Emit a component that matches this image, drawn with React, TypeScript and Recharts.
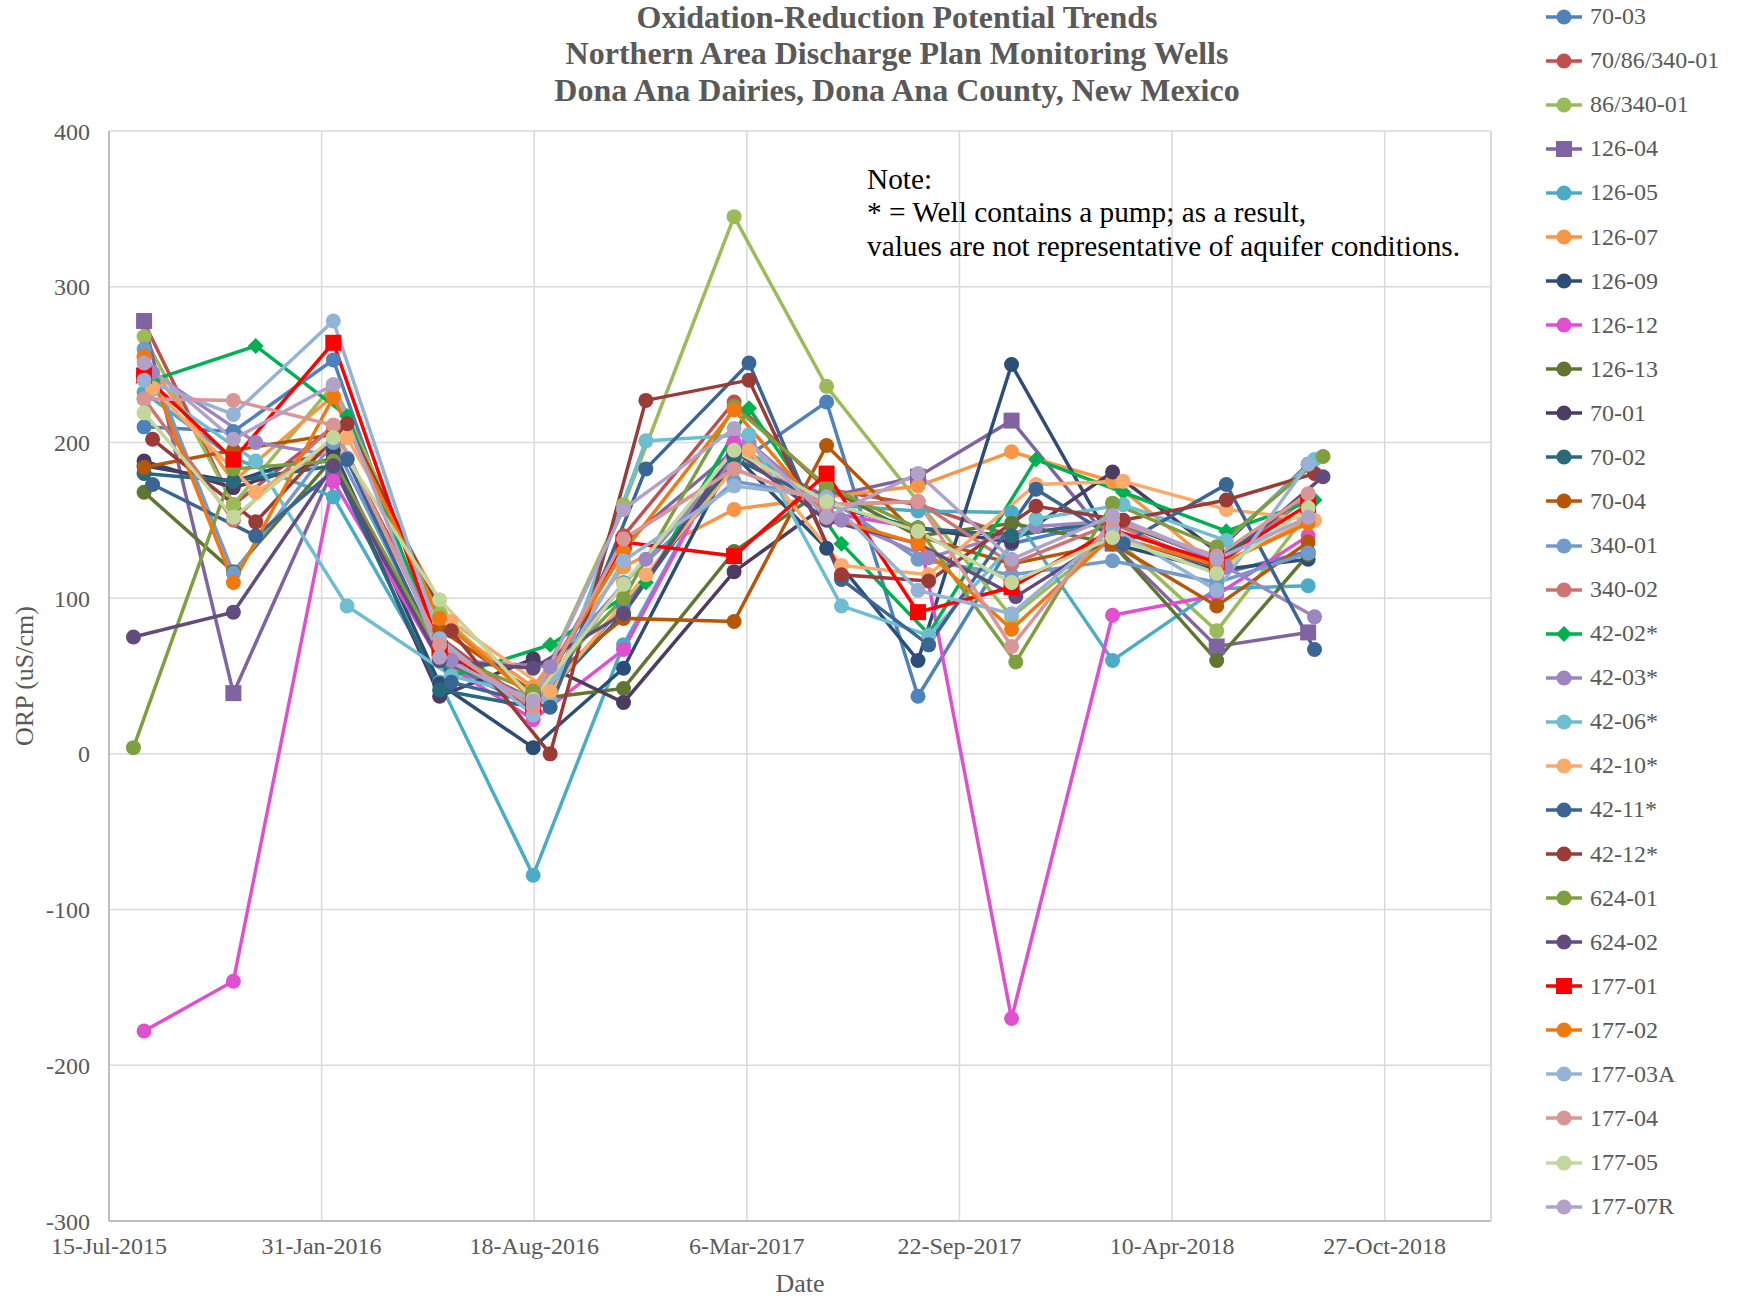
import React from "react";
import { LineChart, Line, XAxis, YAxis, CartesianGrid, ReferenceLine, Label } from "recharts";

const FONT = '"Liberation Serif", "Times New Roman", serif';
const GREY = "#595959";

// axis ticks
const dateTicks = ["2015-07-15", "2016-01-31", "2016-08-18", "2017-03-06", "2017-09-22", "2018-04-10", "2018-10-27"];
const dateEnd = "2019-02-04";
const orpTicks = [-300, -200, -100, 0, 100, 200, 300, 400];

// sampling dates per group of wells
const datesMain = ["2015-08-17", "2015-11-09", "2016-02-11", "2016-05-21", "2016-08-17", "2016-11-10", "2017-02-22", "2017-05-20", "2017-08-14", "2017-11-10", "2018-02-13", "2018-05-22", "2018-08-16"];
const dates42 = ["2015-08-25", "2015-11-30", "2016-02-24", "2016-06-01", "2016-09-02", "2016-12-01", "2017-03-08", "2017-06-03", "2017-08-24", "2017-12-03", "2018-02-23", "2018-05-31", "2018-08-22"];
const dates624 = ["2015-08-07", "2015-11-09", "2016-02-11", "2016-05-21", "2016-08-17", "2016-11-10", "2017-02-22", "2017-05-20", "2017-08-14", "2017-11-14", "2018-02-13", "2018-05-22", "2018-08-30"];

// ORP readings per well
const orp70_03 = [210, 207, 253, 60, 30, 95, 185, 226, 37, 135, 150, 115, 130];
const orp70_86_340_01 = [277, 160, 210, 75, 30, 140, 226, 170, 160, 140, 150, 125, 165];
const orp86_340_01 = [268, 160, 237, 90, 35, 160, 345, 236, 162, 88, 140, 79, 155];
const orp126_04 = [278, 39, 183, 65, 35, 135, 195, 165, 178, 214, 135, 69, 78];
const orp126_05 = [232, 190, 165, 46, -78, 70, 200, 160, 156, 155, 60, 106, 108];
const orp126_07 = [255, 175, 230, 85, 43, 120, 157, 165, 172, 194, 175, 120, 150];
const orp126_09 = [185, 175, 195, 45, 4, 55, 192, 132, 60, 250, 135, 118, 125];
const orp126_12 = [-178, -146, 175, 60, 22, 67, 200, 155, 145, -170, 89, 102, 140];
const orp126_13 = [168, 117, 190, 60, 35, 42, 130, 171, 140, 148, 135, 60, 128];
const orp70_01 = [188, 171, 190, 37, 61, 33, 117, 160, 145, 136, 181, 130, 186];
const orp70_02 = [180, 175, 185, 41, 30, 90, 190, 160, 145, 140, 150, 125, 165];
const orp70_04 = [184, 195, 205, 80, 40, 87, 85, 198, 140, 122, 135, 95, 136];
const orp340_01 = [260, 116, 200, 65, 30, 110, 175, 165, 125, 115, 124, 110, 129];
const orp340_02 = [228, 150, 211, 70, 32, 138, 183, 160, 162, 122, 148, 120, 165];
const orp42_02 = [240, 262, 217, 50, 70, 110, 222, 135, 77, 189, 168, 143, 163];
const orp42_03 = [245, 200, 190, 60, 56, 125, 200, 150, 126, 146, 150, 120, 88];
const orp42_06 = [234, 188, 95, 50, 34, 201, 205, 95, 76, 151, 160, 137, 189];
const orp42_10 = [235, 168, 203, 85, 40, 115, 195, 121, 115, 173, 175, 157, 150];
const orp42_11 = [173, 140, 189, 46, 30, 183, 251, 112, 70, 170, 135, 173, 67];
const orp42_12 = [202, 149, 212, 79, 0, 227, 240, 115, 111, 159, 150, 163, 180];
const orp624_01 = [4, 183, 188, 65, 40, 100, 223, 172, 145, 59, 161, 133, 191];
const orp624_02 = [75, 91, 185, 60, 55, 90, 195, 150, 135, 101, 140, 120, 178];
const orp177_01 = [243, 189, 264, 68, 30, 136, 127, 180, 91, 107, 144, 123, 160];
const orp177_02 = [255, 110, 229, 87, 35, 130, 221, 152, 135, 80, 140, 121, 148];
const orp177_03A = [240, 218, 278, 74, 25, 124, 172, 165, 105, 90, 145, 105, 186];
const orp177_04 = [228, 227, 211, 70, 30, 138, 183, 160, 162, 69, 150, 127, 167];
const orp177_05 = [219, 152, 203, 99, 35, 109, 195, 162, 143, 110, 139, 116, 158];
const orp177_07R = [251, 202, 237, 62, 34, 157, 209, 152, 180, 125, 153, 125, 152];

type Shape = "circle" | "square" | "diamond";

const wells: { name: string; color: string; shape: Shape; dates: string[]; values: number[] }[] = [
  { name: "70-03", color: "#4F81BD", shape: "circle", dates: datesMain, values: orp70_03 },
  { name: "70/86/340-01", color: "#C0504D", shape: "circle", dates: datesMain, values: orp70_86_340_01 },
  { name: "86/340-01", color: "#9BBB59", shape: "circle", dates: datesMain, values: orp86_340_01 },
  { name: "126-04", color: "#8064A2", shape: "square", dates: datesMain, values: orp126_04 },
  { name: "126-05", color: "#4BACC6", shape: "circle", dates: datesMain, values: orp126_05 },
  { name: "126-07", color: "#F79646", shape: "circle", dates: datesMain, values: orp126_07 },
  { name: "126-09", color: "#2C4D75", shape: "circle", dates: datesMain, values: orp126_09 },
  { name: "126-12", color: "#E04FCF", shape: "circle", dates: datesMain, values: orp126_12 },
  { name: "126-13", color: "#5F7530", shape: "circle", dates: datesMain, values: orp126_13 },
  { name: "70-01", color: "#4D3B62", shape: "circle", dates: datesMain, values: orp70_01 },
  { name: "70-02", color: "#276A7C", shape: "circle", dates: datesMain, values: orp70_02 },
  { name: "70-04", color: "#B65708", shape: "circle", dates: datesMain, values: orp70_04 },
  { name: "340-01", color: "#729ACA", shape: "circle", dates: datesMain, values: orp340_01 },
  { name: "340-02", color: "#CD7371", shape: "circle", dates: datesMain, values: orp340_02 },
  { name: "42-02*", color: "#00B050", shape: "diamond", dates: dates42, values: orp42_02 },
  { name: "42-03*", color: "#9C85C0", shape: "circle", dates: dates42, values: orp42_03 },
  { name: "42-06*", color: "#6FBDD1", shape: "circle", dates: dates42, values: orp42_06 },
  { name: "42-10*", color: "#F9AB6B", shape: "circle", dates: dates42, values: orp42_10 },
  { name: "42-11*", color: "#3A6595", shape: "circle", dates: dates42, values: orp42_11 },
  { name: "42-12*", color: "#9A3B38", shape: "circle", dates: dates42, values: orp42_12 },
  { name: "624-01", color: "#7F9F3F", shape: "circle", dates: dates624, values: orp624_01 },
  { name: "624-02", color: "#624C7C", shape: "circle", dates: dates624, values: orp624_02 },
  { name: "177-01", color: "#FF0000", shape: "square", dates: datesMain, values: orp177_01 },
  { name: "177-02", color: "#F0780F", shape: "circle", dates: datesMain, values: orp177_02 },
  { name: "177-03A", color: "#95B3D7", shape: "circle", dates: datesMain, values: orp177_03A },
  { name: "177-04", color: "#D99694", shape: "circle", dates: datesMain, values: orp177_04 },
  { name: "177-05", color: "#C3D69B", shape: "circle", dates: datesMain, values: orp177_05 },
  { name: "177-07R", color: "#B3A2C7", shape: "circle", dates: datesMain, values: orp177_07R },
];

const MONTHS = ["Jan", "Feb", "Mar", "Apr", "May", "Jun", "Jul", "Aug", "Sep", "Oct", "Nov", "Dec"];
const fmtDate = (t: number) => {
  const d = new Date(t);
  return `${d.getUTCDate()}-${MONTHS[d.getUTCMonth()]}-${d.getUTCFullYear()}`;
};

const xTicks = dateTicks.map((d) => Date.parse(d));
const xMin = xTicks[0];
const xMax = Date.parse(dateEnd);

function Marker({ shape, color, cx, cy }: { shape: Shape; color: string; cx: number; cy: number }) {
  if (shape === "square") {
    return <rect x={cx - 8} y={cy - 8} width={16} height={16} fill={color} />;
  }
  if (shape === "diamond") {
    return <polygon points={`${cx},${cy - 8} ${cx + 8},${cy} ${cx},${cy + 8} ${cx - 8},${cy}`} fill={color} />;
  }
  return <circle cx={cx} cy={cy} r={7.5} fill={color} />;
}

const makeDot = (shape: Shape, color: string) => (p: any) => {
  const { cx, cy, index } = p;
  if (cx == null || cy == null) return <g key={`d${index}`} />;
  return (
    <g key={`d${index}`}>
      <Marker shape={shape} color={color} cx={cx} cy={cy} />
    </g>
  );
};

function LegendBox() {
  return (
    <div style={{ position: "absolute", left: 1544, top: 0 }}>
      {wells.map((w, i) => (
        <div
          key={w.name}
          style={{ position: "absolute", top: 16.7 + i * 44.07 - 14, left: 0, height: 28, display: "flex", alignItems: "center", whiteSpace: "nowrap" }}
        >
          <svg width={40} height={20}>
            <line x1={2} y1={10} x2={38} y2={10} stroke={w.color} strokeWidth={3.5} />
            <Marker shape={w.shape} color={w.color} cx={20} cy={10} />
          </svg>
          <span style={{ marginLeft: 6, fontFamily: FONT, fontSize: 24, color: GREY }}>{w.name}</span>
        </div>
      ))}
    </div>
  );
}

export default function App() {
  return (
    <div style={{ position: "absolute", left: 0, top: 0, width: 1747, height: 1301, background: "#fff", overflow: "hidden" }}>
      <LineChart width={1747} height={1301} margin={{ top: 131, right: 256, bottom: 0, left: 0 }}>
        <CartesianGrid stroke="#D9D9D9" strokeWidth={1.5} />
        <XAxis
          type="number"
          dataKey="t"
          domain={[xMin, xMax]}
          ticks={xTicks}
          interval={0}
          tickFormatter={fmtDate}
          allowDataOverflow
          height={80}
          tickLine={false}
          tickSize={0}
          tickMargin={16}
          axisLine={{ stroke: "#BFBFBF", strokeWidth: 2 }}
          tick={{ fill: GREY, fontSize: 24, fontFamily: FONT }}
        >
          <Label value="Date" position="insideBottom" offset={9} fill={GREY} fontSize={26} fontFamily={FONT} />
        </XAxis>
        <YAxis
          type="number"
          domain={[-300, 400]}
          ticks={orpTicks}
          interval={0}
          width={109}
          tickLine={false}
          tickSize={0}
          tickMargin={19}
          axisLine={{ stroke: "#BFBFBF", strokeWidth: 2 }}
          tick={{ fill: GREY, fontSize: 24, fontFamily: FONT }}
        >
          <Label
            content={() => (
              <text x={24} y={676} transform="rotate(-90 24 676)" textAnchor="middle" dominantBaseline="central" fill={GREY} fontSize={26} fontFamily={FONT}>
                ORP (uS/cm)
              </text>
            )}
          />
        </YAxis>
        <ReferenceLine x={xMax} stroke="#D9D9D9" strokeWidth={1.5} />
        {wells.map((w) => (
          <Line
            key={w.name}
            name={w.name}
            data={w.dates.map((d, i) => ({ t: Date.parse(d), v: w.values[i] }))}
            dataKey="v"
            type="linear"
            stroke={w.color}
            strokeWidth={3.5}
            dot={makeDot(w.shape, w.color)}
            activeDot={false}
            isAnimationActive={false}
          />
        ))}
      </LineChart>

      <div
        style={{
          position: "absolute",
          left: 397,
          top: -1,
          width: 1000,
          textAlign: "center",
          fontFamily: FONT,
          fontWeight: "bold",
          fontSize: 32,
          lineHeight: "36.3px",
          color: GREY,
        }}
      >
        <div>Oxidation-Reduction Potential Trends</div>
        <div>Northern Area Discharge Plan Monitoring Wells</div>
        <div>Dona Ana Dairies, Dona Ana County, New Mexico</div>
      </div>

      <div
        style={{
          position: "absolute",
          left: 867,
          top: 163,
          fontFamily: FONT,
          fontSize: 29.3,
          lineHeight: "33.4px",
          color: "#000",
          whiteSpace: "nowrap",
        }}
      >
        <div>Note:</div>
        <div>* = Well contains a pump; as a result,</div>
        <div>values are not representative of aquifer conditions.</div>
      </div>

      <LegendBox />
    </div>
  );
}
